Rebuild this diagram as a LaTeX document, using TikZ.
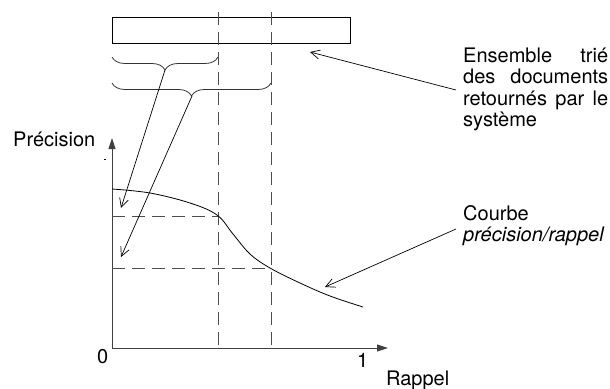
\documentclass[tikz,border=0pt]{standalone}
\usepackage{fontspec}
\setmainfont{TeX Gyre Heros}
\usetikzlibrary{arrows.meta,decorations.pathreplacing}
\begin{document}
\begin{tikzpicture}[x=1pt,y=-1pt,
  axes/.style={draw=black!75,line width=0.9pt,{Triangle[length=11pt,width=7pt]}-{Triangle[length=11pt,width=7pt]}},
  guide/.style={draw=black!70,line width=0.9pt,dash pattern=on 13pt off 7pt},
  pointer/.style={draw=black,line width=0.7pt,-{Straight Barb[length=9pt,width=9pt]}},
  accolade/.style={draw=black!80,line width=0.8pt,decorate,decoration={brace,mirror,amplitude=13pt}},
  label/.style={inner sep=0pt,font=\fontsize{20}{21.5}\selectfont},
]
\useasboundingbox (0,0) rectangle (610,388);

% ranked list of returned documents
\node[draw,line width=0.9pt,minimum width=238pt,minimum height=26pt,inner sep=0pt,anchor=north west] (liste) at (112,17) {};

% cut-off positions in the list
\coordinate (c1top) at (218,12);
\coordinate (c1bot) at (218,348);
\coordinate (c2top) at (271,12);
\coordinate (c2bot) at (271,348);
\draw[guide] (c1top) -- (c1bot);
\draw[guide] (c2top) -- (c2bot);

% braces over the first documents
\coordinate (a1) at (112,57);
\coordinate (a2) at (218,57);
\coordinate (a3) at (112,83);
\coordinate (a4) at (271,83);
\draw[accolade] (a1) -- (a2);
\draw[accolade] (a3) -- (a4);
\coordinate (b1) at (165,70);
\coordinate (b2) at (192,96);

% axes
\coordinate (O) at (112,348);
\coordinate (ytop) at (112,138);
\coordinate (xend) at (388,348);
\draw[axes] (ytop) -- (O) -- (xend);
\draw[line width=0.9pt] (104,159) -- (106,159);

% precision levels reached at the cut-offs
\coordinate (h1a) at (112,216);
\coordinate (h1b) at (218,216);
\coordinate (h2a) at (112,268);
\coordinate (h2b) at (271,268);
\draw[guide] (h1a) -- (h1b);
\draw[guide] (h2a) -- (h2b);

% precision/recall curve
\draw[line width=0.8pt] plot[smooth,tension=0.6] coordinates
  {(112,189) (150,193) (190,203) (217,215) (233,234) (250,254) (270,268) (300,283) (330,296) (363,307)};

% pointers from the braces to the axis
\coordinate (p1) at (121,208);
\coordinate (p2) at (121,257);
\draw[pointer] (b1) -- (p1);
\draw[pointer] (b2) -- (p2);

% labels
\node[label,anchor=base west] (prec) at (13,146) {Précision};
\node[label,anchor=base west] (zero) at (97,363) {0};
\node[label,anchor=base west] (one) at (357,367) {1};
\node[label,anchor=base west] (rappel) at (386,385) {Rappel};

\node[label,anchor=base west,text width=145pt,align=justify] (ensemble) at (463,62)
  {Ensemble trié\linebreak des documents\linebreak retournés par le\linebreak système};
\node[label,anchor=base west,text width=150pt,align=left] (courbe) at (463,220)
  {Courbe\\\textit{précision/rappel}};

\coordinate (e0) at (456,90);
\coordinate (e1) at (310,52);
\draw[pointer] (e0) -- (e1);
\coordinate (k0) at (456,229);
\coordinate (k1) at (325,287);
\draw[pointer] (k0) -- (k1);
\end{tikzpicture}
\end{document}
